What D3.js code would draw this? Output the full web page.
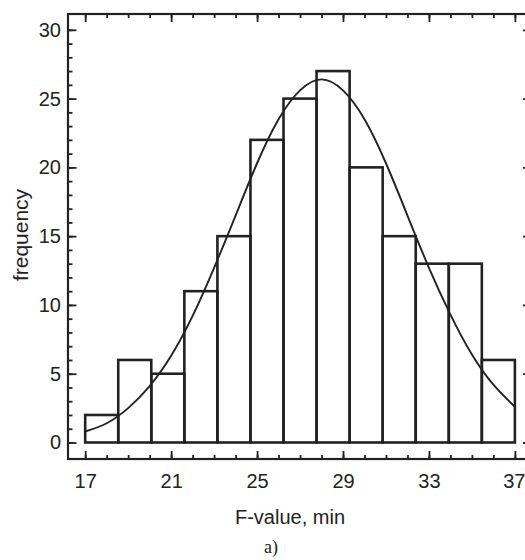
<!DOCTYPE html>
<html>
<head>
<meta charset="utf-8">
<script src="https://cdn.jsdelivr.net/npm/d3@7"></script>
<style>
	body { margin: 0; background: #fff; }
	svg { display: block; }
	text { font-family: "Liberation Sans", Arial, sans-serif; fill: #222; }
</style>
</head>
<body>
<div id="chart"></div>
<script>
///////////////////////////////////////////////////////////////////////////
//////////////////////////// data /////////////////////////////////////////
///////////////////////////////////////////////////////////////////////////

// histogram, 13 bins from 17 to 37 min
const binStart = 17;
const binEnd = 37;
const counts = [2, 6, 5, 11, 15, 22, 25, 27, 20, 15, 13, 13, 6];

// fitted normal curve at each minute
const curveX = [17, 18, 19, 20, 21, 22, 23, 24, 25, 26, 27, 28, 29, 30, 31, 32, 33, 34, 35, 36, 37];
const curveY = [0.8, 1.4, 2.5, 4.1, 6.3, 9.2, 12.7, 16.5, 20.3, 23.5, 25.6, 26.4, 25.6, 23.5, 20.3, 16.5, 12.7, 9.3, 6.4, 4.2, 2.6];

// ticks
const xMajor = [17, 21, 25, 29, 33, 37];
const xMinor = d3.range(17, 38, 1);
const yMajor = [0, 5, 10, 15, 20, 25, 30];
const yMinor = d3.range(0, 31, 1);

const xTitle = "F-value, min";
const yTitle = "frequency";
const caption = "a)";

///////////////////////////////////////////////////////////////////////////
//////////////////////////// Set up svg ///////////////////////////////////
///////////////////////////////////////////////////////////////////////////

const width = 525;
const height = 560;
const ink = "#222";

const svg = d3
	.select("#chart")
	.append("svg")
	.attr("width", width)
	.attr("height", height);

// plot box runs a bit past the right edge, like the original
const box = { left: 68, right: 531, top: 14, bottom: 459 };

const xScale = d3.scaleLinear().domain([16.2, 37.75]).range([box.left, box.right]);
const yScale = d3.scaleLinear().domain([-1.2, 31.15]).range([box.bottom, box.top]);

///////////////////////////////////////////////////////////////////////////
//////////////////////////// bars /////////////////////////////////////////
///////////////////////////////////////////////////////////////////////////

const binW = (binEnd - binStart) / counts.length;
const bins = counts.map((c, i) => ({
	x0: binStart + i * binW,
	x1: binStart + (i + 1) * binW,
	n: c
}));

svg
	.append("g")
	.selectAll("rect")
	.data(bins)
	.enter()
	.append("rect")
	.attr("x", (d) => xScale(d.x0))
	.attr("y", (d) => yScale(d.n))
	.attr("width", (d) => xScale(d.x1) - xScale(d.x0))
	.attr("height", (d) => yScale(0) - yScale(d.n))
	.attr("fill", "none")
	.attr("stroke", ink)
	.attr("stroke-width", 2.6);

///////////////////////////////////////////////////////////////////////////
//////////////////////////// curve ////////////////////////////////////////
///////////////////////////////////////////////////////////////////////////

const line = d3
	.line()
	.x((d) => xScale(d[0]))
	.y((d) => yScale(d[1]))
	.curve(d3.curveNatural);

svg
	.append("path")
	.datum(d3.zip(curveX, curveY))
	.attr("d", line)
	.attr("fill", "none")
	.attr("stroke", ink)
	.attr("stroke-width", 1.9);

///////////////////////////////////////////////////////////////////////////
//////////////////////////// axes /////////////////////////////////////////
///////////////////////////////////////////////////////////////////////////

function styleAxis(g) {
	g.select(".domain").remove();
	g.selectAll(".tick line").attr("stroke", ink).attr("stroke-width", 1.8);
	g.selectAll(".tick text")
		.attr("fill", ink)
		.style("font-size", "20px")
		.style("font-family", "'Liberation Sans', Arial, sans-serif");
}

// bottom: minor + major, ticks point inward
svg
	.append("g")
	.attr("transform", "translate(0," + box.bottom + ")")
	.call(d3.axisBottom(xScale).tickValues(xMinor).tickSize(-4).tickFormat(""))
	.call(styleAxis);
const xAxisG = svg
	.append("g")
	.attr("transform", "translate(0," + box.bottom + ")")
	.call(d3.axisBottom(xScale).tickValues(xMajor).tickSize(-8).tickPadding(15).tickFormat(d3.format("d")))
	.call(styleAxis);

// last label sits on the page edge, pull it in a touch so it isn't clipped
xAxisG
	.selectAll(".tick text")
	.filter((d) => d === 37)
	.attr("text-anchor", "end")
	.attr("x", 10);

// top
svg
	.append("g")
	.attr("transform", "translate(0," + box.top + ")")
	.call(d3.axisTop(xScale).tickValues(xMinor).tickSize(-4).tickFormat(""))
	.call(styleAxis);
svg
	.append("g")
	.attr("transform", "translate(0," + box.top + ")")
	.call(d3.axisTop(xScale).tickValues(xMajor).tickSize(-8).tickFormat(""))
	.call(styleAxis);

// left
svg
	.append("g")
	.attr("transform", "translate(" + box.left + ",0)")
	.call(d3.axisLeft(yScale).tickValues(yMinor).tickSize(-4.5).tickFormat(""))
	.call(styleAxis);
svg
	.append("g")
	.attr("transform", "translate(" + box.left + ",0)")
	.call(d3.axisLeft(yScale).tickValues(yMajor).tickSize(-8.5).tickPadding(7).tickFormat(d3.format("d")))
	.call(styleAxis);

// right (mostly off screen)
svg
	.append("g")
	.attr("transform", "translate(" + box.right + ",0)")
	.call(d3.axisRight(yScale).tickValues(yMajor).tickSize(-8).tickFormat(""))
	.call(styleAxis);

// frame
svg
	.append("rect")
	.attr("x", box.left)
	.attr("y", box.top)
	.attr("width", box.right - box.left)
	.attr("height", box.bottom - box.top)
	.attr("fill", "none")
	.attr("stroke", ink)
	.attr("stroke-width", 2.2);

///////////////////////////////////////////////////////////////////////////
//////////////////////////// titles ///////////////////////////////////////
///////////////////////////////////////////////////////////////////////////

svg
	.append("text")
	.attr("x", 290)
	.attr("y", 524)
	.attr("text-anchor", "middle")
	.style("font-size", "20px")
	.text(xTitle);

svg
	.append("text")
	.attr("transform", "translate(28,235) rotate(-90)")
	.attr("text-anchor", "middle")
	.style("font-size", "21px")
	.text(yTitle);

svg
	.append("text")
	.attr("x", 271)
	.attr("y", 553)
	.attr("text-anchor", "middle")
	.style("font-family", "'Liberation Serif', 'Times New Roman', serif")
	.style("font-size", "18px")
	.text(caption);
</script>
</body>
</html>
